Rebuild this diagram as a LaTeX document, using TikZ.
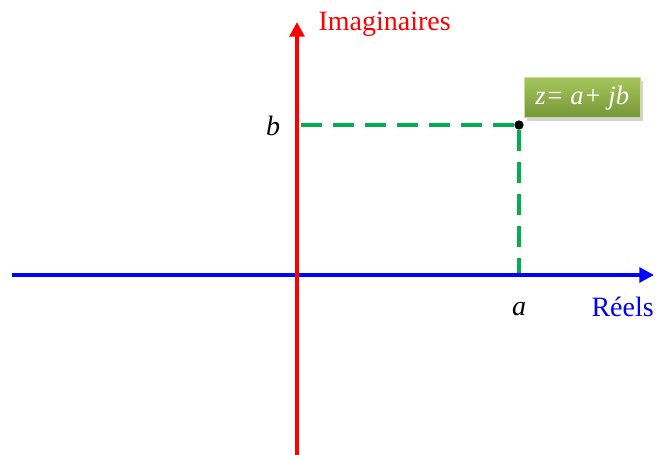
\documentclass[tikz,border=0pt]{standalone}
\usepackage{fontspec}
\setmainfont{Liberation Serif}
\usetikzlibrary{positioning, arrows.meta, shadows}
\definecolor{projgreen}{RGB}{0,176,80}
\definecolor{boxtop}{RGB}{166,198,92}
\definecolor{boxbottom}{RGB}{118,150,56}
\tikzset{
	axisline/.style={line width=3.6pt, -{Triangle[length=11pt,width=11pt]}}
}
\tikzset{
	projline/.style={line width=3.6pt, projgreen, dash pattern=on 16pt off 8pt}
}
\tikzset{
	bigtext/.style={inner sep=0pt, font=\fontsize{21}{25}\selectfont}
}
\tikzset{
	zbox/.style={inner sep=0pt, minimum width=87pt, minimum height=30pt,
		top color=boxtop, bottom color=boxbottom, draw=boxtop!60!white,
		drop shadow={opacity=0.35}, text=white, font=\fontsize{20}{24}\selectfont\itshape}
}

\begin{document}
\begin{tikzpicture}[x=0.75pt, y=-0.75pt]
      \useasboundingbox (0,0) rectangle (656,454);
      \coordinate (xl) at (12,275);
      \coordinate (xr) at (654,275);
      \coordinate (yb) at (297,456);
      \coordinate (yt) at (297,22);
      \coordinate (zb) at (299,125);
      \coordinate (za) at (519,273);
      \node[fill, circle, inner sep=0pt, minimum size=7pt] (z) at (519,125) {};
      \draw[projline] (z) -- (zb);
      \draw[projline] (z) -- (za);
      \draw[axisline, blue] (xl) -- (xr);
      \draw[axisline, red] (yb) -- (yt);
      \node[bigtext, red, right=16pt of yt, yshift=-2pt] (im) {Imaginaires};
      \node[bigtext, blue, anchor=east] (re) at (654,307) {Réels};
      \node[bigtext, left=14pt of zb, yshift=-1pt] (b) {\itshape b};
      \node[bigtext, below=22pt of za] (a) {\itshape a};
      \node[zbox, anchor=south west] (zlabel) at (524,118) {z= a+ jb};
    \end{tikzpicture}
\end{document}
